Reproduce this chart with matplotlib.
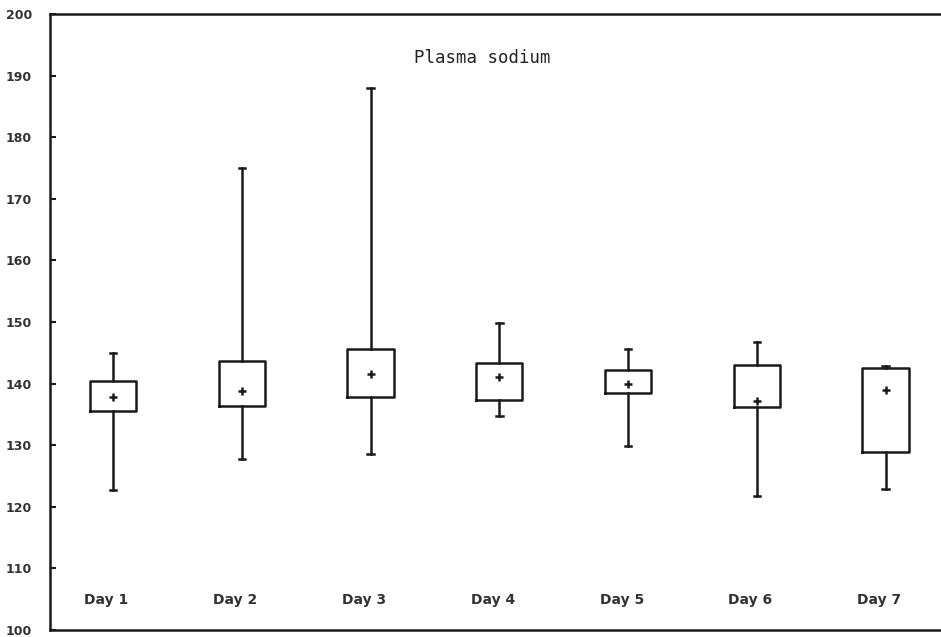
#!/usr/bin/env python3
"""Plasma sodium box plot, days 1-7."""

import matplotlib
matplotlib.use('Agg')
import matplotlib.pyplot as plt

# values
days = ['Day 1', 'Day 2', 'Day 3', 'Day 4', 'Day 5', 'Day 6', 'Day 7']
whisk_hi = [145.0, 175.0, 188.0, 149.8, 145.6, 146.8, 142.9]
q3 = [140.4, 143.6, 145.6, 143.3, 142.2, 143.0, 142.6]
q1 = [135.6, 136.3, 137.9, 137.3, 138.5, 136.2, 128.9]
means = [137.9, 138.8, 141.5, 141.0, 139.9, 137.2, 139.0]
whisk_lo = [122.8, 127.7, 128.6, 134.8, 129.8, 121.8, 122.9]
y_ticks = [100, 110, 120, 130, 140, 150, 160, 170, 180, 190, 200]

fig = plt.figure(figsize=(9.41, 6.37), dpi=100)
ax = fig.add_axes([0.053, 0.011, 0.947, 0.967])

stats = []
for i in range(len(days)):
    stats.append({
        'whislo': whisk_lo[i], 'q1': q1[i], 'med': q1[i], 'q3': q3[i],
        'whishi': whisk_hi[i], 'mean': means[i], 'fliers': [],
    })

pos = list(range(1, len(days) + 1))
lw = 1.8
ax.bxp(stats, positions=pos, widths=0.36, capwidths=0.05, showmeans=True,
       showfliers=False,
       boxprops=dict(color='#1a1a1a', linewidth=lw),
       whiskerprops=dict(color='#1a1a1a', linewidth=lw),
       capprops=dict(color='#1a1a1a', linewidth=lw),
       medianprops=dict(linewidth=0),
       meanprops=dict(marker='+', markersize=6, markeredgewidth=1.8,
                      markeredgecolor='#1a1a1a'))

ax.set_xlim(0.51, 7.43)
ax.set_ylim(100, 200)

# day labels sit inside the axes near the bottom
for p, d in zip(pos, days):
    ax.text(p - 0.05, 104.8, d, ha='center', va='center', fontsize=10,
            fontweight='bold', color='#333333')

ax.text(3.87, 192.9, 'Plasma sodium', ha='center', va='center',
        fontsize=12.5, family='DejaVu Sans Mono', color='#222222')

ax.set_xticks([])
ax.set_yticks(y_ticks)
ax.set_yticklabels([str(v) for v in y_ticks], fontsize=9, fontweight='bold',
                   color='#333333')
ax.tick_params(axis='y', direction='in', length=4, width=1.5, pad=13,
               colors='#1a1a1a', labelcolor='#333333')

ax.spines['right'].set_visible(False)
for s in ['left', 'top', 'bottom']:
    ax.spines[s].set_linewidth(1.8)
    ax.spines[s].set_color('#1a1a1a')

fig.savefig('out.png', dpi=100)
plt.close(fig)
